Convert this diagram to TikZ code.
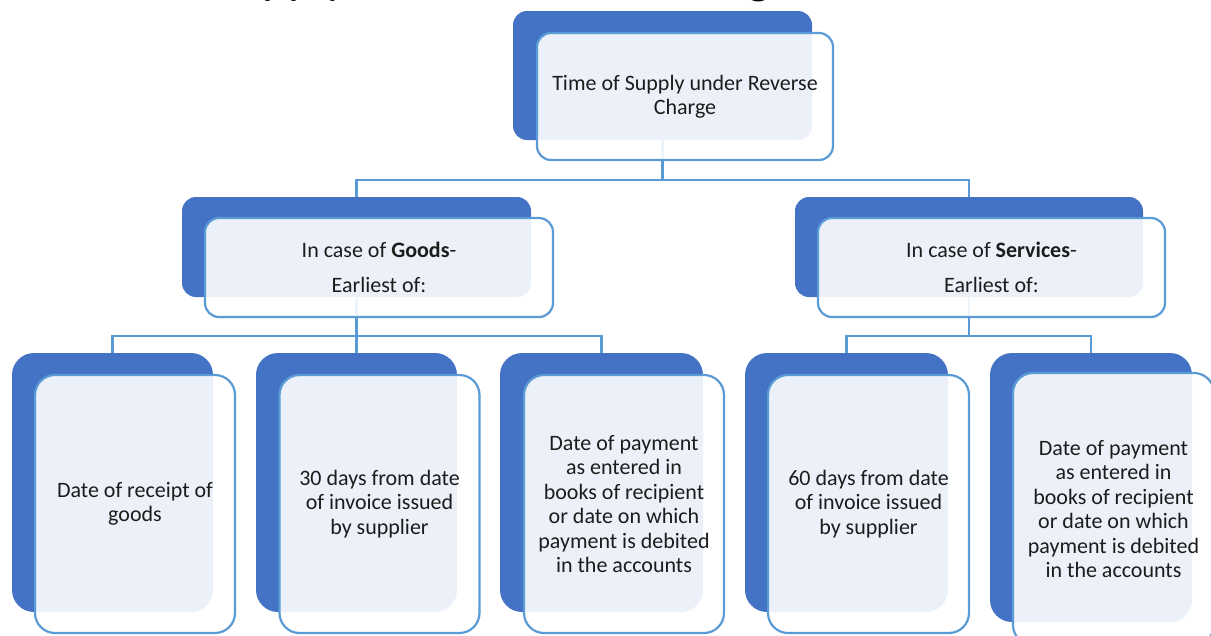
\documentclass[tikz,border=0pt]{standalone}
\usepackage{fontspec}
\setmainfont{Carlito}
\usetikzlibrary{backgrounds,calc}
\definecolor{backblue}{HTML}{4472C4}
\definecolor{edgeblue}{HTML}{5B9BD5}
\definecolor{ink}{HTML}{1C1C1C}
\begin{document}
\begin{tikzpicture}[x=1pt,y=-1pt,
  backbox/.style={fill=backblue, rounded corners=14pt, inner sep=0pt, outer sep=0pt},
  frontbox/.style={fill=white, fill opacity=0.9, text opacity=1, draw=edgeblue,
    line width=2.2pt, rounded corners=14pt, align=center, text=ink,
    font=\fontsize{22}{24.5}\selectfont, inner sep=0pt, outer sep=0pt},
  leafback/.style={backbox, rounded corners=22pt, minimum width=201pt, minimum height=259pt},
  leaffront/.style={frontbox, rounded corners=20pt, minimum width=200pt, minimum height=258pt},
  conn/.style={draw=edgeblue, line width=2.2pt}]
\useasboundingbox (0,0) rectangle (1211,635);
\clip (0,0) rectangle (1211,635);

% slide heading, running above the top edge
\node[anchor=base west, inner sep=0pt, text=black,
  font=\fontsize{49}{55}\selectfont] (title) at (53,-7) {Time of Supply under Reverse Charge};

% root
\node[backbox, minimum width=299pt, minimum height=129pt] (topB) at (662.5,75.5) {};
\node[frontbox, minimum width=296pt, minimum height=127pt] (topF) at (685,96.5)
  {Time of Supply under Reverse\\Charge};

% second level
\node[backbox, minimum width=349pt, minimum height=100pt] (goodsB) at (356.5,247) {};
\node[frontbox, minimum width=348pt, minimum height=99pt] (goodsF) at (379,267.5)
  {In case of \textbf{Goods}-\\[10.5pt]Earliest of:};
\node[backbox, minimum width=348pt, minimum height=100pt] (servB) at (969,247) {};
\node[frontbox, minimum width=347pt, minimum height=99pt] (servF) at (991.5,267.5)
  {In case of \textbf{Services}-\\[10.5pt]Earliest of:};

% leaves under Goods
\node[leafback] (g1B) at (112.5,482.5) {};
\node[leaffront] (g1F) at (135,504) {Date of receipt of\\goods};
\node[leafback] (g2B) at (356.5,482.5) {};
\node[leaffront] (g2F) at (379.5,504) {30 days from date\\of invoice issued\\by supplier};
\node[leafback, minimum width=203pt] (g3B) at (601.5,482.5) {};
\node[leaffront] (g3F) at (624,504) {Date of payment\\as entered in\\books of recipient\\or date on which\\payment is debited\\in the accounts};

% leaves under Services
\node[leafback, minimum width=203pt] (s1B) at (846.5,482.5) {};
\node[leaffront, minimum width=201pt] (s1F) at (868.5,504) {60 days from date\\of invoice issued\\by supplier};
\node[leafback, minimum width=202pt, minimum height=269pt] (s2B) at (1091,487.5) {};
\node[leaffront, minimum width=201pt, minimum height=272pt] (s2F) at (1113.5,509) {Date of payment\\as entered in\\books of recipient\\or date on which\\payment is debited\\in the accounts};

% tree connectors, behind the boxes
\begin{scope}[on background layer]
  \coordinate (j0) at ($(topB.south)+(0,40)$);
  \draw[conn] (topB.south) -- (j0);
  \draw[conn] (goodsB.north) -- (goodsB.north |- j0) -- (servB.north |- j0) -- (servB.north);
  \coordinate (j1) at ($(goodsB.south)+(0,39)$);
  \draw[conn] (goodsB.south) -- (j1);
  \draw[conn] (g1B.north) -- (g1B.north |- j1) -- (g3B.north |- j1) -- (g3B.north);
  \draw[conn] (j1) -- (g2B.north);
  \coordinate (j2) at ($(servB.south)+(0,39)$);
  \draw[conn] (servB.south) -- (j2);
  \draw[conn] (s1B.north) -- (s1B.north |- j2) -- (s2B.north |- j2) -- (s2B.north);
\end{scope}
\end{tikzpicture}
\end{document}
